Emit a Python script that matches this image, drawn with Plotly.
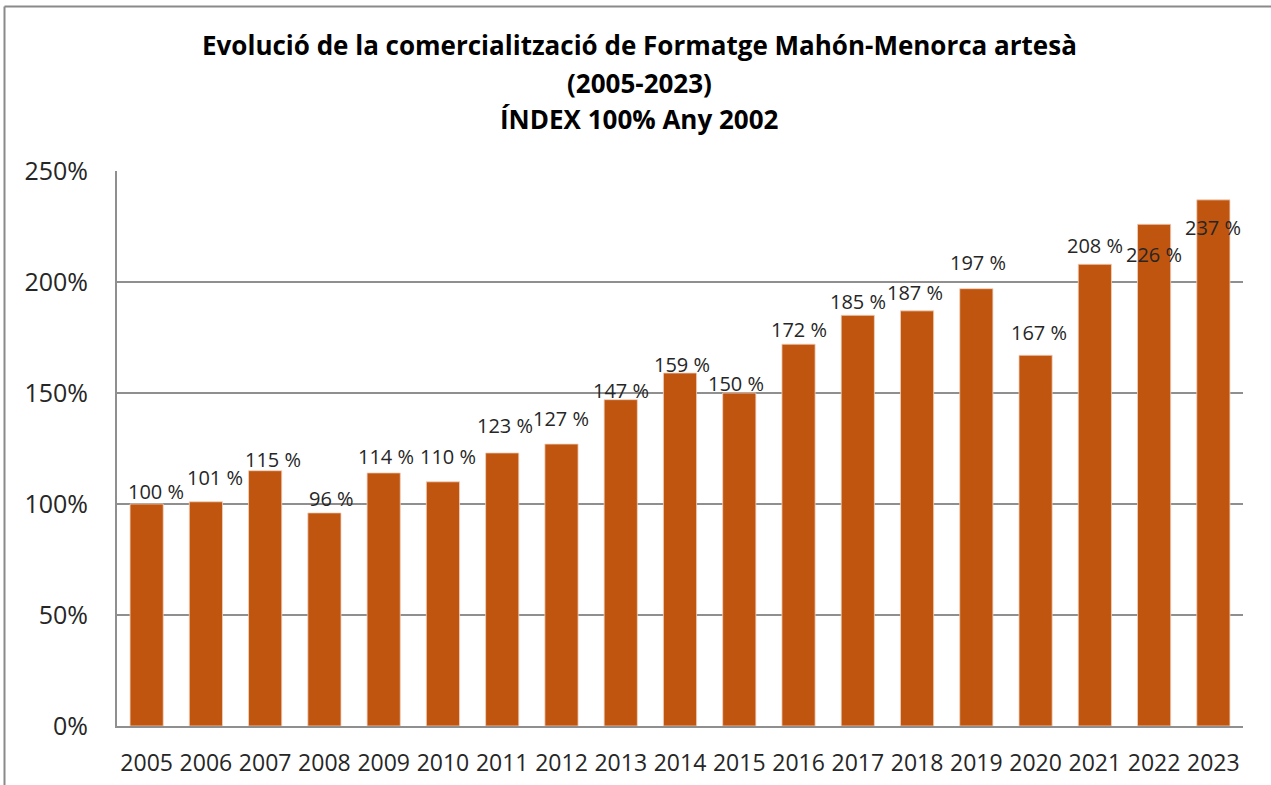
import plotly.graph_objects as go

years = [2005, 2006, 2007, 2008, 2009, 2010, 2011, 2012, 2013, 2014,
         2015, 2016, 2017, 2018, 2019, 2020, 2021, 2022, 2023]
index_pct = [100, 101, 115, 96, 114, 110, 123, 127, 147, 159,
             150, 172, 185, 187, 197, 167, 208, 226, 237]
# nudges (px) of the value labels relative to bar tops, as placed in the original
label_yshift = [13, 24, 11, 14, 16, 25, 27, 26, 9, 9,
                10, 15, 14, 18, 26, 23, 19, -30, -28]
label_xshift = [9, 9, 8, 7, 2, 5, 3, 0, 0, 2,
                -3, 0, 0, -2, 2, 3, 0, 0, 0]

title_lines = ["Evolució de la comercialització de Formatge Mahón-Menorca artesà",
               "(2005-2023)",
               "ÍNDEX 100% Any 2002"]
y_ticks = [0, 50, 100, 150, 200, 250]
y_tick_text = [f"{v}%" for v in y_ticks]
x_tick_text = [str(y) for y in years]

FONT = "Open Sans"
BAR = "#C0550F"
GRID = "#8f8f8f"
TXT = "#262626"

W, H = 1271, 785
ML, MR, MT, MB = 117, 28, 171, 59
PW, PH = W - ML - MR, H - MT - MB

fig = go.Figure()
fig.add_trace(go.Bar(
    x=years, y=index_pct, width=0.56,
    marker=dict(color=BAR, line=dict(color="#F3D2BE", width=0.8)),
    hoverinfo="x+y",
))

for yr, v, sy, sx in zip(years, index_pct, label_yshift, label_xshift):
    fig.add_annotation(x=yr, y=v, xref="x", yref="y", text=f"{v} %",
                       showarrow=False, yanchor="middle", yshift=sy, xshift=sx,
                       font=dict(family=FONT, size=20, color=TXT))

title_centers_px = [45, 83, 119]
title_cx = (639 - ML) / PW
for t, py in zip(title_lines, title_centers_px):
    fig.add_annotation(x=title_cx, xref="paper", xanchor="center",
                       y=(H - MB - py) / PH, yref="paper", yanchor="middle",
                       text=f"<b>{t}</b>", showarrow=False,
                       font=dict(family=FONT, size=26, color="#000000"))

# outer chart frame (left and top edges visible)
fx0 = (4.5 - ML) / PW
fy1 = (H - MB - 6.5) / PH
fig.add_shape(type="line", xref="paper", yref="paper", x0=fx0, x1=fx0, y0=-0.3, y1=fy1,
              line=dict(color="#8a8a8a", width=2))
fig.add_shape(type="line", xref="paper", yref="paper", x0=fx0, x1=1.2, y0=fy1, y1=fy1,
              line=dict(color="#8a8a8a", width=2))

fig.update_layout(
    width=W, height=H,
    margin=dict(l=ML, r=MR, t=MT, b=MB, pad=0, autoexpand=False),
    paper_bgcolor="white", plot_bgcolor="white",
    showlegend=False,
    font=dict(family=FONT, color=TXT),
)
fig.update_xaxes(
    type="linear", range=[years[0] - 0.5, years[-1] + 0.5], automargin=False,
    tickmode="array", tickvals=years, ticktext=x_tick_text,
    showgrid=False, zeroline=False, showline=True, linecolor=GRID, linewidth=2,
    ticks="", ticklabelstandoff=15,
    tickfont=dict(family=FONT, size=23, color=TXT),
)
fig.update_yaxes(
    type="linear", range=[0, 250], tickmode="array", tickvals=y_ticks, ticktext=y_tick_text,
    automargin=False,
    showgrid=True, gridcolor=GRID, gridwidth=2, zeroline=False,
    showline=True, linecolor=GRID, linewidth=2,
    ticks="", ticklabelstandoff=22,
    tickfont=dict(family=FONT, size=25, color=TXT),
)

fig.write_html("out.html", config={"displayModeBar": False},
               post_script="document.body.style.margin='0';")
